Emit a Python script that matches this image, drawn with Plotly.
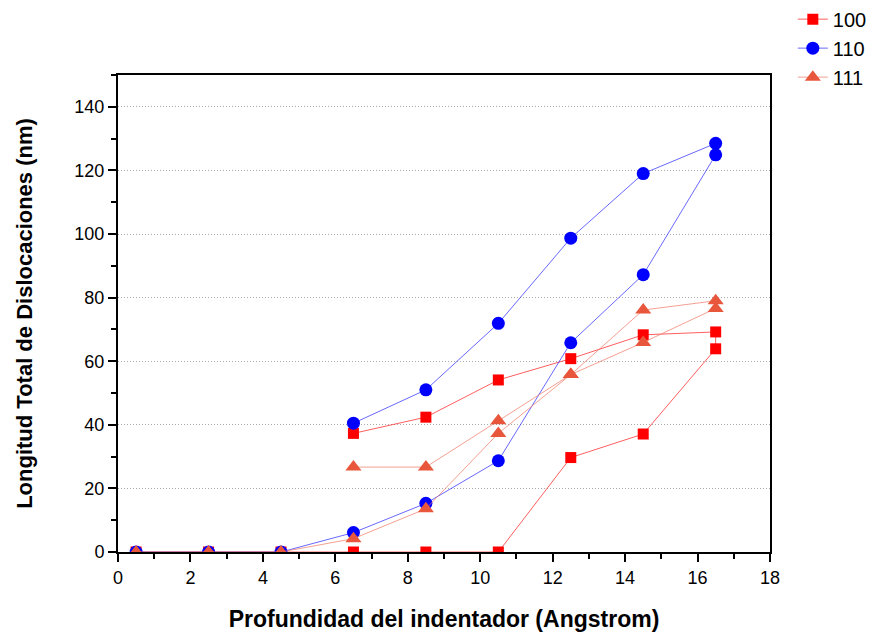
import plotly.graph_objects as go

# profundidad (Angstrom): carga y descarga
x_100 = [0.5, 2.5, 4.5, 6.5, 8.5, 10.5, 12.5, 14.5, 16.5, 16.5, 14.5, 12.5, 10.5, 8.5, 6.5]
y_100 = [0, 0, 0, 0, 0, 0, 29.7, 37.1, 63.9, 69.2, 68.3, 60.8, 54.1, 42.4, 37.3]

x_110 = [0.5, 2.5, 4.5, 6.5, 8.5, 10.5, 12.5, 14.5, 16.5, 16.5, 14.5, 12.5, 10.5, 8.5, 6.5]
y_110 = [0, 0, 0, 6.1, 15.3, 28.7, 65.8, 87.2, 124.9, 128.5, 119.0, 98.7, 71.9, 51.0, 40.5]

x_111 = [0.5, 2.5, 4.5, 6.5, 8.5, 10.5, 12.5, 14.5, 16.5, 16.5, 14.5, 12.5, 10.5, 8.5, 6.5]
y_111 = [0, 0, 0, 4.2, 13.6, 37.3, 55.8, 76.1, 79.0, 76.6, 65.9, 55.8, 41.3, 26.7, 26.7]

fig = go.Figure()

fig.add_trace(go.Scatter(x=x_100, y=y_100, name='100', mode='lines+markers',
                         line=dict(color='rgba(255,40,40,0.75)', width=1),
                         marker=dict(symbol='square', size=11, color='#FF0000')))
fig.add_trace(go.Scatter(x=x_110, y=y_110, name='110', mode='lines+markers',
                         line=dict(color='rgba(40,40,255,0.7)', width=1),
                         marker=dict(symbol='circle', size=13, color='#0000FF')))
fig.add_trace(go.Scatter(x=x_111, y=y_111, name='111', mode='lines+markers',
                         line=dict(color='rgba(240,120,100,0.7)', width=1),
                         marker=dict(symbol='triangle-up', size=14, color='#E8573C')))

font_ax = dict(family='Liberation Sans, Arial', size=18, color='black')

axis_common = dict(showline=True, linecolor='black', linewidth=2, mirror=True,
                   ticks='outside', ticklen=8, tickwidth=2, tickcolor='black',
                   zeroline=False, automargin=False, tickfont=font_ax)

fig.update_xaxes(range=[0, 18], dtick=2, showgrid=False,
                 minor=dict(ticks='outside', ticklen=5, tickwidth=2, tickcolor='black', dtick=1),
                 title=dict(text='<b>Profundidad del indentador (Angstrom)</b>',
                            font=dict(family='Liberation Sans, Arial', size=23, color='black'), standoff=24),
                 **axis_common)
fig.update_yaxes(range=[0, 150], dtick=20, showgrid=True, gridcolor='#AAAAAA', griddash='1px,2px', gridwidth=1,
                 minor=dict(ticks='outside', ticklen=5, tickwidth=2, tickcolor='black', dtick=10, showgrid=False),
                 title=dict(text='<b>Longitud Total de Dislocaciones (nm)</b>',
                            font=dict(family='Liberation Sans, Arial', size=22, color='black'), standoff=36),
                 **axis_common)

# la pagina tiene 8px de margen en el body
fig.update_layout(
    width=884, height=625,
    margin=dict(l=110, r=122, t=67, b=81, autoexpand=False),
    plot_bgcolor='white', paper_bgcolor='white',
    legend=dict(x=1.035, y=1.158, xanchor='left', yanchor='top',
                font=dict(family='Liberation Sans, Arial', size=20, color='black'),
                bgcolor='rgba(0,0,0,0)', tracegroupgap=0),
)

fig.write_html("out.html")
